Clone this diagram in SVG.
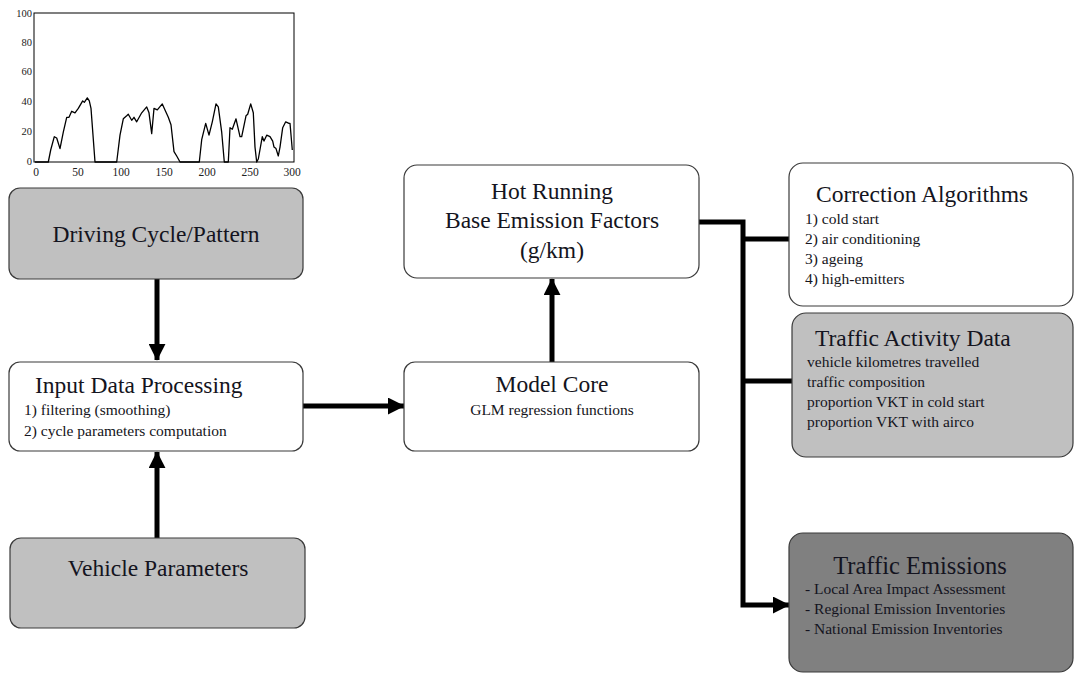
<svg xmlns="http://www.w3.org/2000/svg" width="1075" height="675" viewBox="0 0 1075 675">
<defs>
<style>
.box{stroke:#3a3a3a;stroke-width:1.2}
.w{fill:#ffffff}
.g{fill:#c0c0c0}
.d{fill:#808080}
.t{font-family:"Liberation Serif","Times New Roman",serif;fill:#141420}
.big{font-size:23.5px}
.sm{font-size:15.5px}
.ax{font-family:"Liberation Serif","Times New Roman",serif;fill:#222;font-size:10.5px}
.con{fill:none;stroke:#000;stroke-width:5}
</style>
<marker id="ah" viewBox="0 0 10 10" refX="9.5" refY="5" markerWidth="3.4" markerHeight="3.4" markerUnits="strokeWidth" orient="auto">
<path d="M0,0 L10,5 L0,10 Z" fill="#000"/>
</marker>
</defs>
<rect width="1075" height="675" fill="#ffffff"/>

<g id="chart">
<rect x="34" y="13" width="260" height="149" fill="none" stroke="#000" stroke-width="1"/>
<g class="ax" text-anchor="end">
<text x="32" y="17">100</text>
<text x="32" y="46">80</text>
<text x="32" y="75">60</text>
<text x="32" y="105">40</text>
<text x="32" y="135">20</text>
<text x="32" y="165">0</text>
</g>
<g class="ax" text-anchor="middle" style="font-size:11.5px">
<text x="36" y="176">0</text>
<text x="78" y="176">50</text>
<text x="121" y="176">100</text>
<text x="164" y="176">150</text>
<text x="207" y="176">200</text>
<text x="250" y="176">250</text>
<text x="292" y="176">300</text>
</g>
<polyline fill="none" stroke="#000" stroke-width="1.3" stroke-linejoin="round" points="35,162 48.3,162 50.7,150 54.3,136.7 56.7,138 60,148.6 63.3,132.2 66.7,117.3 69,117.3 71.7,111.3 75,112.8 78.3,108.4 82.7,100.9 84.3,102.4 87.3,97.9 89.3,100.9 91,108.4 95,162 116.7,162 120,135.2 123.3,118.8 126.7,115.8 128.3,114.3 131.7,120.3 134,117.3 136.7,121.8 141.7,112.8 146.7,106.9 149,112.8 151.7,133.7 154,108.4 157.3,109.9 162.3,103.9 165,109.9 168.3,117.3 171,124.8 174,151.6 176.7,156 180,162 199.3,162 201.7,139.7 205.7,123.3 209,135.2 212.3,121.8 216,103.9 218.3,106.9 221.7,132.2 224.3,162 228.3,162 230,127.7 232.3,129.2 236,118.8 240,136.7 241.7,136.7 246,115.8 247.7,114.3 250.7,103.9 253.3,112.8 255,147.1 256.7,162 258.3,159 262.3,136.7 264,141.1 266.7,135.2 270,136.7 272.7,141.1 274,147.1 276,148.6 278.3,156 280,147.1 282.7,127.7 285.7,121.8 289,123.3 290,123.3 292.3,150"/>
</g>

<g id="connectors">
<line class="con" x1="157" y1="279" x2="157" y2="360" marker-end="url(#ah)"/>
<line class="con" x1="157" y1="538" x2="157" y2="452" marker-end="url(#ah)"/>
<line class="con" x1="303" y1="406" x2="404" y2="406" marker-end="url(#ah)"/>
<line class="con" x1="552" y1="362" x2="552" y2="279" marker-end="url(#ah)"/>
<polyline class="con" points="699,222 743,222 743,605 789,605" marker-end="url(#ah)"/>
<line class="con" x1="743" y1="239" x2="790" y2="239"/>
<line class="con" x1="743" y1="381" x2="792" y2="381"/>
</g>

<g id="driving-cycle">
<rect class="box g" x="9" y="188" width="294" height="91" rx="11"/>
<text class="t big" x="156" y="242" text-anchor="middle">Driving Cycle/Pattern</text>
</g>

<g id="input-data-processing">
<rect class="box w" x="9" y="362" width="294" height="89" rx="11"/>
<text class="t big" x="35" y="393">Input Data Processing</text>
<text class="t sm" x="24" y="415">1) filtering (smoothing)</text>
<text class="t sm" x="24" y="436">2) cycle parameters computation</text>
</g>

<g id="vehicle-parameters">
<rect class="box g" x="10" y="538" width="295" height="90" rx="11"/>
<text class="t big" x="158" y="576" text-anchor="middle">Vehicle Parameters</text>
</g>

<g id="model-core">
<rect class="box w" x="404" y="362" width="295" height="89" rx="11"/>
<text class="t big" x="552" y="392" text-anchor="middle">Model Core</text>
<text class="t sm" x="552" y="415" text-anchor="middle">GLM regression functions</text>
</g>

<g id="hot-running">
<rect class="box w" x="404" y="165" width="295" height="113" rx="13"/>
<text class="t big" x="552" y="199" text-anchor="middle">Hot Running</text>
<text class="t big" x="552" y="228" text-anchor="middle">Base Emission Factors</text>
<text class="t big" x="552" y="258" text-anchor="middle">(g/km)</text>
</g>

<g id="correction-algorithms">
<rect class="box w" x="789" y="163" width="284" height="143" rx="14"/>
<text class="t big" x="816" y="202">Correction Algorithms</text>
<text class="t sm" x="805" y="224">1) cold start</text>
<text class="t sm" x="805" y="244">2) air conditioning</text>
<text class="t sm" x="805" y="264">3) ageing</text>
<text class="t sm" x="805" y="284">4) high-emitters</text>
</g>

<g id="traffic-activity-data">
<rect class="box g" x="792" y="313" width="281" height="144" rx="14"/>
<text class="t big" x="815" y="346">Traffic Activity Data</text>
<text class="t sm" x="807" y="367">vehicle kilometres travelled</text>
<text class="t sm" x="807" y="387">traffic composition</text>
<text class="t sm" x="807" y="407">proportion VKT in cold start</text>
<text class="t sm" x="807" y="427">proportion VKT with airco</text>
</g>

<g id="traffic-emissions">
<rect class="box d" x="789" y="533" width="284" height="139" rx="14"/>
<text class="t big" x="920" y="574" text-anchor="middle" style="font-size:24.5px">Traffic Emissions</text>
<text class="t sm" x="805" y="594">- Local Area Impact Assessment</text>
<text class="t sm" x="805" y="614">- Regional Emission Inventories</text>
<text class="t sm" x="805" y="634">- National Emission Inventories</text>
</g>
</svg>
